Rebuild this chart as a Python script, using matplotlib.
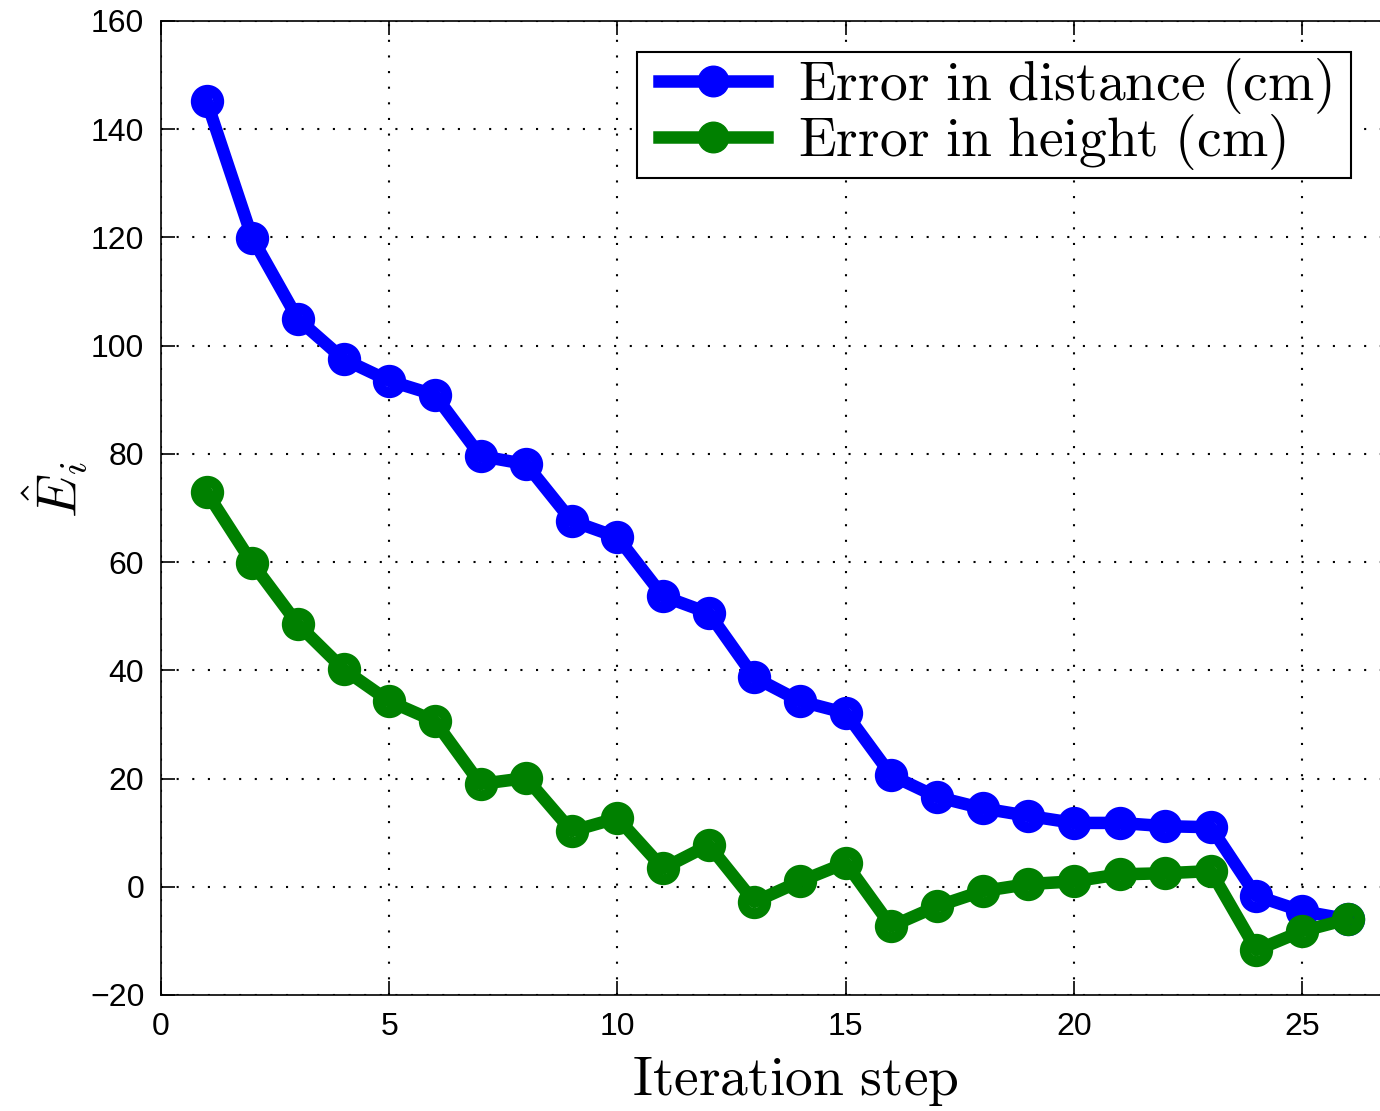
import numpy as np
import matplotlib.pyplot as plt
from matplotlib.lines import Line2D
from matplotlib.patches import Rectangle

plt.rcParams['mathtext.fontset'] = 'cm'
plt.rcParams['font.family'] = ['Liberation Sans', 'DejaVu Sans']

steps = np.arange(1, 27)
err_distance = [145.2, 119.9, 104.9, 97.5, 93.5, 90.9, 79.6, 78.1, 67.6, 64.6,
                53.7, 50.6, 38.7, 34.3, 32.1, 20.6, 16.6, 14.5, 13.1, 11.8,
                11.8, 11.2, 11.0, -1.7, -4.5, -6.0]
err_height = [72.9, 59.8, 48.5, 40.2, 34.3, 30.6, 19.0, 20.1, 10.3, 12.7,
              3.4, 7.7, -2.8, 1.0, 4.4, -7.3, -3.6, -0.8, 0.5, 1.0,
              2.3, 2.5, 2.9, -11.7, -8.2, -6.0]
labels = [r'$\mathrm{Error\ in\ distance\ (cm)}$', r'$\mathrm{Error\ in\ height\ (cm)}$']
colors = ['#0000ff', '#008000']

W, H = 1380, 1111
fig = plt.figure(figsize=(W / 100, H / 100), dpi=100)
# axes run past the right edge of the canvas
ax = fig.add_axes([161 / W, 116 / H, 1278 / W, 974 / H])

for ys, c in zip([err_distance, err_height], colors):
    ax.plot(steps, ys, color=c, lw=9, marker='o', ms=16, mew=8,
            mfc='none', mec=c, solid_joinstyle='round', zorder=3)

ax.set_xlim(0, 28)
ax.set_ylim(-20, 160)
ax.set_xticks([0, 5, 10, 15, 20, 25])
ax.set_yticks(np.arange(-20, 161, 20))
ax.tick_params(direction='in', length=10, width=1.2, labelsize=23, pad=12,
               top=True, right=False)
ax.grid(True, color='black', lw=1.5, linestyle=(0, (1, 6.5)))
for side in ['left', 'bottom', 'top']:
    ax.spines[side].set_linewidth(1.2)
ax.spines['right'].set_visible(False)

ax.set_xlabel(r'$\mathrm{Iteration\ step}$', fontsize=40)
ax.xaxis.set_label_coords((795 - 161) / 1278, (995 - 1082) / 974)
ax.xaxis.label.set_va('center')
ax.set_ylabel(r'$\hat{E}_i$', fontsize=40)
ax.yaxis.set_label_coords(-106 / 1278, (995 - 490) / 974)
ax.yaxis.label.set_va('center')

# legend frame drawn separately so the side padding can differ from the top/bottom
ax.add_patch(Rectangle((637 / W, 1 - 178 / H), 714 / W, 126 / H,
                       transform=fig.transFigure, facecolor='white',
                       edgecolor='black', lw=1.5, zorder=4, clip_on=False))
handles = [Line2D([], [], color=c, lw=9, marker='o', ms=22, mfc=c, mec=c)
           for c in colors]
leg = ax.legend(handles, labels, loc='upper right',
                bbox_to_anchor=(1332 / W, 1 - 56 / H),
                bbox_transform=fig.transFigure, borderaxespad=0,
                fontsize=40, handlelength=1.95, handletextpad=0.55,
                labelspacing=-0.07, borderpad=0, frameon=False)
leg.set_zorder(5)

fig.savefig('out.png', dpi=100)
